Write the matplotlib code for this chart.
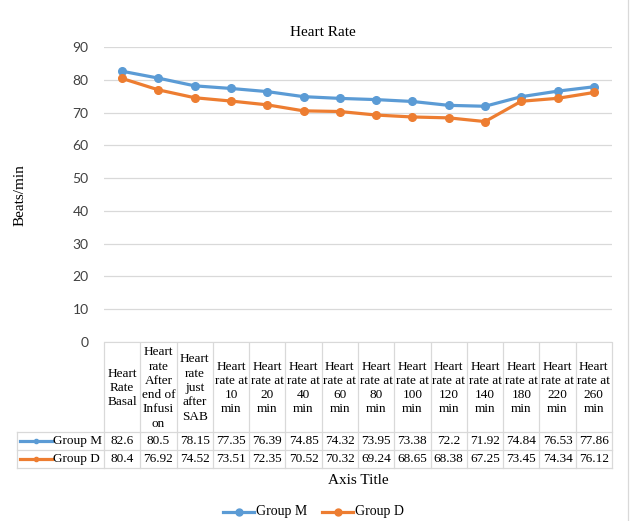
#! /usr/bin/env python

# Heart rate line chart with an Excel style data table underneath

import matplotlib
matplotlib.use('Agg')
import matplotlib.pyplot as plt
from matplotlib.lines import Line2D

# Data
categories = ['Heart Rate Basal', 'Heart rate After end of Infusion',
              'Heart rate just after SAB', 'Heart rate at 10 min',
              'Heart rate at 20 min', 'Heart rate at 40 min',
              'Heart rate at 60 min', 'Heart rate at 80 min',
              'Heart rate at 100 min', 'Heart rate at 120 min',
              'Heart rate at 140 min', 'Heart rate at 180 min',
              'Heart rate at 220 min', 'Heart rate at 260 min']
header_labels = ['Heart\nRate\nBasal', 'Heart\nrate\nAfter\nend of\nInfusi\non',
                 'Heart\nrate\njust\nafter\nSAB', 'Heart\nrate at\n10\nmin',
                 'Heart\nrate at\n20\nmin', 'Heart\nrate at\n40\nmin',
                 'Heart\nrate at\n60\nmin', 'Heart\nrate at\n80\nmin',
                 'Heart\nrate at\n100\nmin', 'Heart\nrate at\n120\nmin',
                 'Heart\nrate at\n140\nmin', 'Heart\nrate at\n180\nmin',
                 'Heart\nrate at\n220\nmin', 'Heart\nrate at\n260\nmin']
group_m = [82.6, 80.5, 78.15, 77.35, 76.39, 74.85, 74.32, 73.95, 73.38, 72.2, 71.92, 74.84, 76.53, 77.86]
group_d = [80.4, 76.92, 74.52, 73.51, 72.35, 70.52, 70.32, 69.24, 68.65, 68.38, 67.25, 73.45, 74.34, 76.12]
series_names = ['Group M', 'Group D']
yticks = [0, 10, 20, 30, 40, 50, 60, 70, 80, 90]

BLUE = '#5B9BD5'
ORANGE = '#ED7D31'
GRID = '#D9D9D9'
SERIF = 'Liberation Serif'

W, H = 631, 521
fig = plt.figure(figsize=(W / 100, H / 100), dpi=100)


def fx(px):
    return px / W


def fy(py):
    return 1 - py / H


# plot area in pixel coordinates
left, right, top, bottom = 104, 612, 47, 342
ax = fig.add_axes([fx(left), fy(bottom), fx(right - left), fy(top) - fy(bottom)])

n = len(categories)
xs = [i + 0.5 for i in range(n)]
ax.plot(xs, group_m, color=BLUE, lw=2.3, marker='o', ms=5.5, solid_capstyle='round', zorder=3)
ax.plot(xs, group_d, color=ORANGE, lw=2.3, marker='o', ms=5.5, solid_capstyle='round', zorder=3)

ax.set_xlim(0, n)
ax.set_ylim(0, 90)
ax.set_yticks(yticks)
ax.set_xticks([])
ax.grid(axis='y', color=GRID, lw=0.9)
ax.set_axisbelow(True)
for s in ['top', 'right', 'left']:
    ax.spines[s].set_visible(False)
ax.spines['bottom'].set_color(GRID)
ax.tick_params(axis='y', length=0, pad=11, labelsize=10, labelcolor='#404040')
for lab in ax.get_yticklabels():
    lab.set_fontfamily('Lato')

# titles
fig.text(fx(323), fy(33), 'Heart Rate', ha='center', va='center', fontsize=11, family=SERIF)
fig.text(fx(20), fy(195), 'Beats/min', ha='center', va='center', rotation=90, fontsize=11, family=SERIF)
fig.text(fx(358), fy(481), 'Axis Title', ha='center', va='center', fontsize=11, family=SERIF)

# data table
col_w = (right - left) / n
tab_left = 17
row_tops = [343, 432, 450, 468]
line_kw = dict(color=GRID, lw=0.9, transform=fig.transFigure)

for i in range(n + 1):
    x = left + i * col_w
    fig.add_artist(Line2D([fx(x), fx(x)], [fy(row_tops[0]), fy(row_tops[-1])], **line_kw))
fig.add_artist(Line2D([fx(tab_left), fx(tab_left)], [fy(row_tops[1]), fy(row_tops[-1])], **line_kw))
for y in row_tops[1:]:
    fig.add_artist(Line2D([fx(tab_left), fx(right)], [fy(y), fy(y)], **line_kw))

for i, lab in enumerate(header_labels):
    cx = left + (i + 0.5) * col_w
    fig.text(fx(cx), fy(388), lab, ha='center', va='center', fontsize=9.5,
             family=SERIF, linespacing=1.25)

for r, (vals, name, col) in enumerate(zip([group_m, group_d], series_names, [BLUE, ORANGE])):
    cy = (row_tops[r + 1] + row_tops[r + 2]) / 2
    fig.add_artist(Line2D([fx(20), fx(52)], [fy(cy), fy(cy)], color=col, lw=2.3,
                          transform=fig.transFigure))
    fig.add_artist(Line2D([fx(36)], [fy(cy)], color=col, marker='o', ms=3,
                          transform=fig.transFigure))
    fig.text(fx(53), fy(cy), name, ha='left', va='center', fontsize=9.5, family=SERIF)
    for i, v in enumerate(vals):
        cx = left + (i + 0.5) * col_w
        fig.text(fx(cx), fy(cy), f'{v:g}', ha='center', va='center', fontsize=9.5, family=SERIF)

# legend
leg_y = 512
for x0, name, col in [(223, series_names[0], BLUE), (322, series_names[1], ORANGE)]:
    fig.add_artist(Line2D([fx(x0), fx(x0 + 31)], [fy(leg_y), fy(leg_y)], color=col, lw=2.3,
                          transform=fig.transFigure))
    fig.add_artist(Line2D([fx(x0 + 15.5)], [fy(leg_y)], color=col, marker='o', ms=5,
                          transform=fig.transFigure))
    fig.text(fx(x0 + 33), fy(leg_y), name, ha='left', va='center', fontsize=10, family=SERIF)

# chart border on the right
fig.add_artist(Line2D([fx(628), fx(628)], [0, 1], color=GRID, lw=0.9, transform=fig.transFigure))

plt.savefig('out.png', dpi=100)
